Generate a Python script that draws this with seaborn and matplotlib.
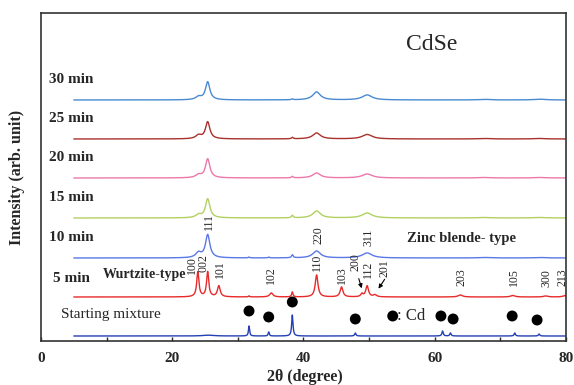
import numpy as np
import pandas as pd
import matplotlib
matplotlib.use("Agg")
import matplotlib.pyplot as plt
import seaborn as sns
from matplotlib.ticker import MultipleLocator

# scan range (2theta, degree)
scan_start = 5
scan_end = 80

# zinc blende samples (10-30 min): peak positions / half widths
zb_pos = [24.0, 25.4, 31.7, 34.7, 38.3, 42.0, 49.7, 67.5, 76.0]
zb_hwhm = [0.5, 0.4, 0.12, 0.12, 0.15, 0.7, 0.9, 1.0, 1.0]
h_30min = [3.0, 18, 0.0, 0.0, 0.8, 8, 5.0, 0.6, 0.8]
h_25min = [3.5, 17, 0.0, 0.0, 1.5, 6, 4.5, 0.5, 0.5]
h_20min = [3.0, 19, 0.0, 0.0, 1.5, 5, 4.0, 0.5, 0.5]
h_15min = [3.0, 19, 0.0, 0.0, 2.5, 7, 5.0, 0.5, 0.5]
h_10min = [5.0, 23, 0.8, 0.8, 3.0, 7, 5.0, 0.5, 0.5]

# wurtzite sample (5 min)
wz_pos = [23.9, 25.4, 27.1, 31.7, 35.1, 38.3, 42.0, 45.8, 48.9, 49.7, 50.9, 63.9, 71.9, 76.9, 79.9]
wz_hwhm = [0.2, 0.2, 0.25, 0.1, 0.3, 0.12, 0.25, 0.25, 0.2, 0.25, 0.3, 0.4, 0.4, 0.4, 0.4]
h_5min = [25, 25, 11, 1.0, 4, 5, 22, 10, 3, 11, 2, 2, 1.5, 1, 1.5]

# starting mixture (Cd metal)
cd_pos = [25.5, 31.7, 34.7, 38.3, 47.9, 61.2, 62.4, 72.2, 75.9]
cd_hwhm = [1.0, 0.1, 0.1, 0.12, 0.12, 0.12, 0.12, 0.12, 0.12]
h_start = [0.8, 10, 4, 21, 3, 5, 3, 3, 2]

labels = ["30 min", "25 min", "20 min", "15 min", "10 min", "5 min", "Starting mixture"]
offsets = [241, 202, 163, 123, 83, 44, 5]
colors = ["#4a8ad0", "#a8322c", "#ec78aa", "#b2d060", "#5a78e6", "#e82a2a", "#2440b4"]

# Cd markers above the starting-mixture peaks
cd_dot_x = [31.7, 34.7, 38.3, 47.9, 53.6, 60.95, 62.8, 71.8, 75.6]
cd_dot_y = [30, 24, 39, 22, 25, 25, 22, 25, 21]

# hkl labels
hkl_text = ["100", "002", "101", "102", "111", "220", "311", "110", "103", "200", "112", "201", "203", "105", "300", "213"]
hkl_x = [23.0, 24.8, 27.2, 35.1, 25.6, 42.3, 49.9, 42.0, 45.8, 48.0, 49.8, 52.4, 64.1, 72.1, 77.0, 79.4]
hkl_y = [76, 78, 72, 66, 119, 106, 104, 79, 66, 79, 72, 73, 64, 64, 63, 64]


def pattern(pos, hwhm, heights, x):
    y = np.zeros_like(x)
    for p, w, h in zip(pos, hwhm, heights):
        y += h / (1 + ((x - p) / w) ** 2)
    return y


sns.set_style("ticks")
plt.rcParams["font.family"] = ["Liberation Serif", "DejaVu Serif"]

x = np.arange(scan_start, scan_end + 0.001, 0.02)
curves = [
    pattern(zb_pos, zb_hwhm, h_30min, x),
    pattern(zb_pos, zb_hwhm, h_25min, x),
    pattern(zb_pos, zb_hwhm, h_20min, x),
    pattern(zb_pos, zb_hwhm, h_15min, x),
    pattern(zb_pos, zb_hwhm, h_10min, x),
    pattern(wz_pos, wz_hwhm, h_5min, x),
    pattern(cd_pos, cd_hwhm, h_start, x),
]

frames = []
for lab, off, cv in zip(labels, offsets, curves):
    frames.append(pd.DataFrame({"two_theta": x, "intensity": cv + off, "sample": lab}))
df = pd.concat(frames, ignore_index=True)

fig = plt.figure(figsize=(5.74, 3.85), dpi=100)
ax = fig.add_axes([0.0714, 0.1143, 0.9146, 0.852])

sns.lineplot(data=df, x="two_theta", y="intensity", hue="sample", hue_order=labels,
             palette=colors, linewidth=1.0, legend=False, ax=ax, estimator=None, sort=False)

sns.scatterplot(x=cd_dot_x, y=cd_dot_y, color="black", s=62, edgecolor="none", ax=ax, zorder=5)

ax.set_xlim(0, 80)
ax.set_ylim(0, 328)
ax.set_yticks([])
ax.xaxis.set_major_locator(MultipleLocator(20))
ax.xaxis.set_minor_locator(MultipleLocator(10))
ax.tick_params(axis="x", which="both", direction="in", length=3, width=1, pad=8)
for t in ax.get_xticklabels():
    t.set_fontweight("bold")
    t.set_fontsize(11)
for sp in ax.spines.values():
    sp.set_visible(True)
    sp.set_linewidth(1.2)
    sp.set_color("#333333")

ax.set_xlabel("2θ (degree)", fontsize=11.5, fontweight="bold", va="center")
ax.set_ylabel("Intensity (arb. unit)", fontsize=11.5, fontweight="bold")
ax.xaxis.set_label_coords(0.503, -0.11)
ax.yaxis.set_label_coords(-0.031, 0.5)

# sample labels
for lab, off in zip(labels[:5], offsets[:5]):
    ax.text(1.2, off + 20, lab, fontsize=11, fontweight="bold", va="center", ha="left")
ax.text(1.8, offsets[5] + 18, labels[5], fontsize=11, fontweight="bold", va="center", ha="left")
ax.text(3.0, 26, labels[6], fontsize=11, va="center", ha="left")

ax.text(59.5, 296, "CdSe", fontsize=17, va="center", ha="center")
ax.text(64.1, 102, "Zinc blende- type", fontsize=10.5, fontweight="bold", va="center", ha="center")
ax.text(9.4, 66, "Wurtzite-type", fontsize=10, fontweight="bold", va="center", ha="left")
ax.text(54.3, 25, ": Cd", fontsize=12, va="center", ha="left")

for t, hx, hy in zip(hkl_text, hkl_x, hkl_y):
    ax.text(hx, hy, t, rotation=90, fontsize=8.5, va="center", ha="center", clip_on=True)

ax.annotate("", xy=(49.0, 50), xytext=(48.3, 65),
            arrowprops=dict(arrowstyle="-|>", color="black", lw=0.8, mutation_scale=6))
ax.annotate("", xy=(51.2, 50), xytext=(52.6, 64),
            arrowprops=dict(arrowstyle="-|>", color="black", lw=0.8, mutation_scale=6))

fig.savefig("out.png", dpi=100)
